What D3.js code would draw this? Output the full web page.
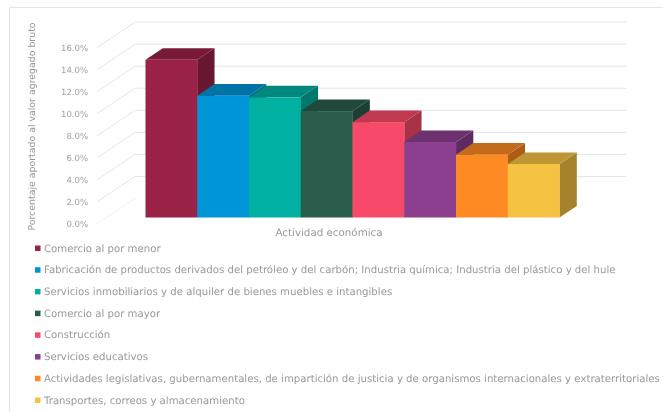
<!DOCTYPE html>
<html><head><meta charset="utf-8">
<script src="https://cdn.jsdelivr.net/npm/d3@7"></script>
<style>
html,body{margin:0;padding:0;background:#fff}
svg{display:block;filter:blur(0.4px)}
text{font-family:"DejaVu Sans",sans-serif;fill:#999;text-rendering:geometricPrecision}
</style></head><body><svg id="c" width="663" height="412"></svg>
<script>
const categories=["Comercio al por menor","Fabricación de productos derivados del petróleo y del carbón; Industria química; Industria del plástico y del hule","Servicios inmobiliarios y de alquiler de bienes muebles e intangibles","Comercio al por mayor","Construcción","Servicios educativos","Actividades legislativas, gubernamentales, de impartición de justicia y de organismos internacionales y extraterritoriales","Transportes, correos y almacenamiento"];
const values=[14.3,11.05,10.9,9.65,8.65,6.85,5.7,4.85];
const colors=["#9b2247","#0095d6","#00b0a0","#2a5d4c","#f74a68","#8b3f8e","#fd8a23","#f5c242"];
const tickValues=[0,2,4,6,8,10,12,14,16];
const yTitle="Porcentaje aportado al valor agregado bruto";
const xTitle="Actividad económica";

const svg=d3.select("#c");
const y=d3.scaleLinear().domain([0,16]).range([224,47.6]);
const x=d3.scaleBand().domain(categories).range([145.5,559.5]);
const wallFront=97, wallBack=135, wallRight=626.5, wallDy=-25.5;
const barDx=17.3, barDy=-11.6, barShift=-6.5;

// frame
svg.append("path").attr("d","M9.5,412V7.5H663").attr("fill","none").attr("stroke","#e4e4e4");

// walls
const grid=svg.append("g").attr("fill","none");
tickValues.forEach(t=>{
  const back=y(t)+wallDy;
  grid.append("path")
    .attr("d",t===0?`M${wallFront},${y(t)}L${wallBack},${back}`:`M${wallFront},${y(t)}L${wallBack},${back}H${wallRight}`)
    .attr("stroke",t===0?"#f1f1f3":"#e5e6ea").attr("stroke-width",1);
});

// axis
const axis=d3.axisLeft(y).tickValues(tickValues).tickSize(0).tickPadding(0).tickFormat(d=>d.toFixed(1)+"%");
const ag=svg.append("g").attr("transform","translate(88,0)").call(axis);
ag.select(".domain").remove();
ag.selectAll("text").style("font-family",'"DejaVu Sans",sans-serif').style("font-size","8.5px").style("fill","#a0a0a0");

// bars, left to right: each bar's front and top cover the side of the one before
const bars=svg.append("g");
categories.forEach((c,i)=>{
  const v=values[i];
  const x0=x(c),x1=x0+x.bandwidth(),top=y(v)+barShift,base=y(0)+barShift;
  const base3=d3.color(colors[i]);
  bars.append("path").attr("fill",base3.darker(1.1).formatHex())
    .attr("d",`M${x1},${top}L${x1+barDx},${top+barDy}V${base+barDy}L${x1},${base}Z`);
  bars.append("path").attr("fill",base3.darker(0.72).formatHex())
    .attr("d",`M${x0},${top}L${x0+barDx},${top+barDy}H${x1+barDx}L${x1},${top}Z`);
  bars.append("rect").attr("x",x0).attr("y",top).attr("width",x1-x0+0.3).attr("height",base-top).attr("fill",colors[i]);
});

// titles
svg.append("text").attr("transform","translate(35,126.5) rotate(-90)").attr("text-anchor","middle").attr("font-size",9.4).text(yTitle);
svg.append("text").attr("x",329).attr("y",236).attr("text-anchor","middle").attr("font-size",10.3).text(xTitle);

// legend
const ly=d3.scalePoint().domain(categories).range([248,400]);
const lg=svg.append("g").selectAll("g").data(categories).join("g").attr("transform",d=>`translate(0,${ly(d)})`);
lg.append("rect").attr("x",35).attr("y",-2.5).attr("width",5.5).attr("height",5.5).attr("fill",(d,i)=>colors[i]);
lg.append("text").attr("x",44).attr("y",3.5).attr("font-size",9.6).text(d=>d);

// fit legend font size to the reference's longest line width
const longest=lg.selectAll("text").filter(d=>d===categories[6]).node().getComputedTextLength();
lg.selectAll("text").attr("font-size",9.6*616/longest);
</script></body></html>
